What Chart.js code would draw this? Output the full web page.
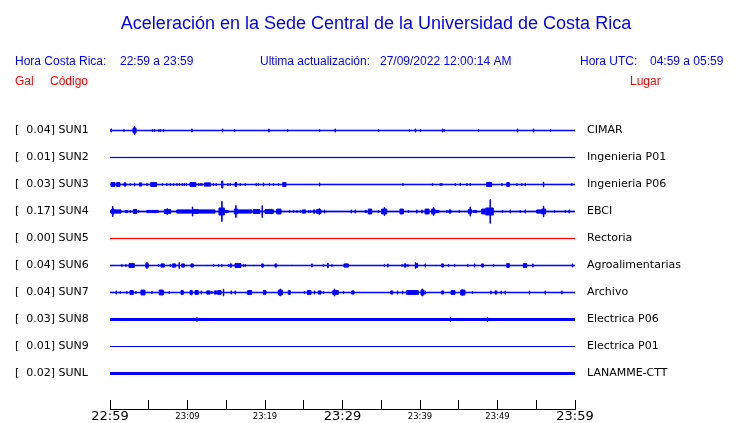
<!DOCTYPE html>
<html>
<head>
<meta charset="utf-8">
<script src="https://cdn.jsdelivr.net/npm/chart.js@4.4.1/dist/chart.umd.min.js"></script>
<style>
  body { margin: 0; background: #fff; }
  canvas { display: block; }
</style>
</head>
<body>
<canvas id="myCanvas" width="740" height="423"></canvas>
<script>
// stations, top to bottom
const stations = ["SUN1", "SUN2", "SUN3", "SUN4", "SUN5", "SUN6", "SUN7", "SUN8", "SUN9", "SUNL"];
const places = ["CIMAR", "Ingenieria P01", "Ingenieria P06", "EBCI", "Rectoria",
  "Agroalimentarias", "Archivo", "Electrica P06", "Electrica P01", "LANAMME-CTT"];
const peakGal = ["0.04", "0.01", "0.03", "0.17", "0.00", "0.04", "0.04", "0.03", "0.01", "0.02"];
const timeLabels = ["22:59", "23:09", "23:19", "23:29", "23:39", "23:49", "23:59"];

// background noise level of each trace (fraction of row spacing)
const noiseFloor = [0.01, 0.005, 0.01, 0.015, 0.005, 0.01, 0.01, 0.037, 0, 0.037];

// events: [minute after 22:59, amplitude, duration in minutes (optional)]
const sun1 = [
  [0.13, 0.06], [1.77, 0.04], [2.97, 0.09, 0.39], [3.14, 0.15], [5.46, 0.04], [5.72, 0.04],
  [6.28, 0.04], [6.49, 0.04], [6.88, 0.04], [10.54, 0.06], [14.49, 0.06], [16.04, 0.04],
  [20.48, 0.06], [22.88, 0.04], [27.01, 0.04], [29.03, 0.06], [34.62, 0.04], [38.62, 0.04],
  [39.39, 0.06], [40.04, 0.04], [42.88, 0.06], [43.10, 0.04], [47.52, 0.04], [52.55, 0.06],
  [54.62, 0.06], [56.81, 0.04]
];
const sun2 = [];
const sun3 = [
  [0.13, 0.07, 0.52], [0.86, 0.07, 0.43], [1.81, 0.06, 0.26], [2.58, 0.04], [3.14, 0.06],
  [3.78, 0.06, 0.31], [4.74, 0.04], [5.25, 0.07, 0.77], [6.75, 0.04], [7.32, 0.04], [7.74, 0.04],
  [8.17, 0.04], [8.61, 0.04], [8.94, 0.04], [9.29, 0.04], [9.55, 0.04], [9.81, 0.04],
  [10.32, 0.07, 0.77], [11.39, 0.04], [11.61, 0.04], [11.83, 0.04], [12.17, 0.06, 0.83],
  [13.33, 0.04], [13.68, 0.04], [14.41, 0.13, 0.15], [15.19, 0.04], [15.48, 0.04],
  [16.13, 0.07, 0.22], [16.77, 0.04], [17.42, 0.04], [18.84, 0.04], [19.14, 0.04], [19.78, 0.06],
  [20.55, 0.04], [21.07, 0.04], [21.72, 0.04], [22.28, 0.07, 0.43], [27.01, 0.06], [37.77, 0.04],
  [41.59, 0.04], [42.58, 0.04], [42.80, 0.04], [44.52, 0.04], [45.16, 0.04], [46.03, 0.04],
  [46.45, 0.04], [48.60, 0.07, 0.65], [48.95, 0.09], [50.54, 0.04], [51.19, 0.07, 0.34],
  [52.48, 0.04], [53.12, 0.04], [53.55, 0.04], [55.91, 0.09], [59.57, 0.04]
];
const sun4 = [
  [0.0, 0.04, 0.09], [0.22, 0.09, 0.3], [0.32, 0.19], [0.52, 0.06, 0.9], [1.94, 0.04, 0.35],
  [2.58, 0.04], [3.01, 0.07, 0.44], [3.32, 0.09], [3.65, 0.04], [4.74, 0.04, 1.5],
  [7.01, 0.07, 0.83], [7.35, 0.11], [8.61, 0.06, 1.94], [10.62, 0.17], [10.75, 0.07, 0.65],
  [11.39, 0.06, 2.15], [14.06, 0.13, 0.69], [14.41, 0.37], [14.75, 0.04, 0.52],
  [16.04, 0.09, 0.44], [16.22, 0.22], [16.55, 0.06, 1.73], [18.49, 0.07, 0.86], [19.61, 0.22],
  [20.0, 0.07, 1.07], [20.77, 0.09], [21.51, 0.09, 0.56], [23.14, 0.04], [23.65, 0.04],
  [24.09, 0.04], [24.52, 0.04], [24.81, 0.06, 0.44], [25.59, 0.04], [25.85, 0.04],
  [26.23, 0.06, 0.22], [26.67, 0.07, 0.56], [26.97, 0.11], [27.65, 0.06], [29.38, 0.02],
  [31.1, 0.06], [31.61, 0.06], [32.9, 0.04, 0.22], [33.33, 0.09, 0.44], [34.62, 0.04],
  [35.06, 0.09, 0.65], [35.39, 0.15], [37.42, 0.09, 0.43], [38.49, 0.04], [39.57, 0.06],
  [40.22, 0.06], [40.65, 0.09, 0.52], [41.51, 0.09, 0.43], [41.72, 0.15], [41.94, 0.04, 0.52],
  [43.45, 0.04], [43.74, 0.06, 0.26], [45.03, 0.04], [46.23, 0.07, 0.44], [46.45, 0.17],
  [46.88, 0.04, 0.44], [47.96, 0.09, 0.43], [48.48, 0.13, 0.98], [49.03, 0.44], [50.62, 0.04],
  [51.61, 0.06], [52.9, 0.04], [53.55, 0.06], [55.06, 0.06, 0.65], [55.7, 0.09, 0.52],
  [55.91, 0.2], [57.33, 0.04], [58.71, 0.04], [59.23, 0.06]
];
const sun5 = [];
const sun6 = [
  [0.22, 0.02], [1.51, 0.04], [2.03, 0.04], [2.45, 0.07, 0.69], [4.61, 0.07, 0.34], [4.74, 0.11],
  [6.23, 0.04], [6.58, 0.06, 0.43], [7.74, 0.04], [8.04, 0.06, 0.44], [8.9, 0.11],
  [9.25, 0.06, 0.34], [10.45, 0.06, 0.3], [12.48, 0.02], [13.33, 0.04], [13.97, 0.04],
  [14.41, 0.04], [15.26, 0.04], [15.48, 0.06, 0.22], [16.13, 0.07, 0.77], [17.2, 0.04],
  [17.42, 0.04], [18.49, 0.02], [19.57, 0.06, 0.22], [20.43, 0.02], [21.29, 0.06, 0.22],
  [23.45, 0.02], [26.03, 0.06], [27.52, 0.04], [28.09, 0.09], [28.61, 0.04], [30.19, 0.06, 0.56],
  [35.39, 0.04], [35.83, 0.06], [37.64, 0.04], [37.97, 0.06, 0.22], [38.41, 0.04],
  [39.39, 0.07, 0.31], [39.39, 0.11], [40.65, 0.06], [42.03, 0.02], [42.8, 0.06, 0.22],
  [43.65, 0.04], [44.43, 0.04], [46.15, 0.04], [47.01, 0.06], [47.96, 0.06, 0.22], [49.46, 0.04],
  [51.19, 0.07, 0.34], [53.33, 0.07, 0.44], [54.54, 0.06], [59.65, 0.06]
];
const sun7 = [
  [0.3, 0.02], [0.77, 0.06], [1.29, 0.04], [2.15, 0.04], [2.58, 0.07, 0.43], [3.32, 0.04],
  [4.0, 0.09, 0.52], [5.38, 0.04], [6.36, 0.09, 0.52], [7.61, 0.04], [9.16, 0.07, 0.3],
  [10.32, 0.07, 0.3], [10.45, 0.09], [10.97, 0.07, 0.43], [11.74, 0.06], [12.48, 0.06, 0.43],
  [13.12, 0.04], [13.46, 0.06, 0.31], [13.9, 0.07, 0.43], [14.62, 0.13], [15.61, 0.06],
  [16.13, 0.06], [17.77, 0.07, 0.52], [19.78, 0.07, 0.35], [21.72, 0.09, 0.52], [21.94, 0.13],
  [23.01, 0.07, 0.26], [25.07, 0.04], [25.46, 0.07, 0.48], [26.36, 0.06], [26.88, 0.06, 0.35],
  [27.52, 0.04], [28.74, 0.07, 0.72], [28.94, 0.13], [30.1, 0.04], [31.19, 0.06, 0.3],
  [32.17, 0.02], [36.22, 0.06, 0.26], [37.07, 0.06], [37.72, 0.06], [38.28, 0.07, 1.5],
  [40.13, 0.09, 0.39], [40.26, 0.13], [40.65, 0.06], [42.8, 0.06, 0.22], [44.0, 0.07, 0.52],
  [45.25, 0.09, 0.55], [45.42, 0.11], [46.75, 0.04], [49.12, 0.06], [49.68, 0.06, 0.22],
  [50.45, 0.06], [50.97, 0.06], [54.1, 0.06], [56.13, 0.06], [58.28, 0.06]
];
const sun8 = [[11.19, 0.07], [43.87, 0.07], [48.68, 0.07]];
const sun9 = [];
const sunL = [];

const traces = [sun1, sun2, sun3, sun4, sun5, sun6, sun7, sun8, sun9, sunL];
const rowColors = ["#0000ff", "#0000ff", "#0000ff", "#0000ff", "#ff0000",
  "#0000ff", "#0000ff", "#0000ff", "#0000ff", "#0000ff"];

const thin = 0.06; // width of a single spike, minutes

// step envelope of one trace: amplitude held from each break to the next
function envelope(events, floor) {
  const cuts = [0, 60];
  events.forEach(e => cuts.push(e[0], e[0] + (e[2] || thin)));
  const xs = [...new Set(cuts)].sort((a, b) => a - b);
  return xs.map(x => {
    let a = floor;
    events.forEach(e => {
      if (x >= e[0] && x < e[0] + (e[2] || thin)) a = Math.max(a, e[1]);
    });
    return { x: x, a: a };
  });
}

const datasets = [];
traces.forEach((ev, i) => {
  const env = envelope(ev, noiseFloor[i]);
  const common = {
    borderColor: rowColors[i],
    backgroundColor: rowColors[i],
    borderWidth: 1,
    pointRadius: 0,
    stepped: true,
  };
  datasets.push(Object.assign({ data: env.map(p => ({ x: p.x, y: i - p.a })), fill: false }, common));
  datasets.push(Object.assign({ data: env.map(p => ({ x: p.x, y: i + p.a })), fill: "-1" }, common));
});

const rowTicks = s => { s.ticks = stations.map((n, i) => ({ value: i })); };

const header = {
  id: "header",
  afterDraw(chart) {
    const ctx = chart.ctx;
    ctx.save();
    ctx.textBaseline = "alphabetic";
    ctx.fillStyle = "#0000ff";
    ctx.font = "18px 'Liberation Sans'";
    ctx.textAlign = "center";
    ctx.fillText("Aceleración en la Sede Central de la Universidad de Costa Rica", 376, 29);
    ctx.font = "12px 'Liberation Sans'";
    ctx.textAlign = "left";
    ctx.fillText("Hora Costa Rica:", 15, 65);
    ctx.fillText("22:59 a 23:59", 120, 65);
    ctx.fillText("Ultima actualización:", 260, 65);
    ctx.fillText("27/09/2022 12:00:14 AM", 380, 65);
    ctx.fillText("Hora UTC:", 580, 65);
    ctx.fillText("04:59 a 05:59", 650, 65);
    ctx.fillStyle = "#ff0000";
    ctx.fillText("Gal", 15, 85);
    ctx.fillText("Código", 50, 85);
    ctx.fillText("Lugar", 630, 85);
    ctx.restore();
  }
};

const rowAxisFit = w => s => { s.width = w; s.paddingTop = 0; s.paddingBottom = 0; };

new Chart(document.getElementById("myCanvas"), {
  type: "line",
  data: { datasets: datasets },
  plugins: [header],
  options: {
    responsive: false,
    animation: false,
    layout: { padding: { left: 15, top: 117, right: 0, bottom: 0 } },
    plugins: { legend: { display: false }, tooltip: { enabled: false } },
    scales: {
      x: {
        type: "linear",
        min: 0,
        max: 60,
        afterFit: s => { s.height = 14; },
        border: { display: true, color: "#000", width: 1 },
        grid: { drawOnChartArea: false, drawTicks: true, tickLength: -9, color: "#000" },
        ticks: {
          stepSize: 5,
          autoSkip: false,
          maxRotation: 0,
          padding: 9,
          color: "#000",
          font: c => (c.tick && c.tick.value % 30 === 0)
            ? { family: "'DejaVu Sans'", size: 13, lineHeight: "15px" }
            : { family: "'DejaVu Sans'", size: 8.5, lineHeight: "15px" },
          callback: v => (v % 10 === 0 ? timeLabels[v / 10] : "")
        }
      },
      y: {
        position: "left",
        reverse: true,
        min: -0.5,
        max: 10.3148,
        afterFit: rowAxisFit(95),
        afterBuildTicks: rowTicks,
        border: { display: false },
        grid: { display: false, drawTicks: false },
        ticks: {
          crossAlign: "far",
          color: "#000",
          font: { family: "'DejaVu Sans'", size: 11 },
          callback: (v, i) => "[  " + peakGal[i] + "] " + stations[i]
        }
      },
      y2: {
        position: "right",
        reverse: true,
        min: -0.5,
        max: 10.3148,
        afterFit: rowAxisFit(165),
        afterBuildTicks: rowTicks,
        border: { display: false },
        grid: { display: false, drawTicks: false },
        ticks: {
          padding: 12,
          color: "#000",
          font: { family: "'DejaVu Sans'", size: 11 },
          callback: (v, i) => places[i]
        }
      }
    }
  }
});
</script>
</body>
</html>
